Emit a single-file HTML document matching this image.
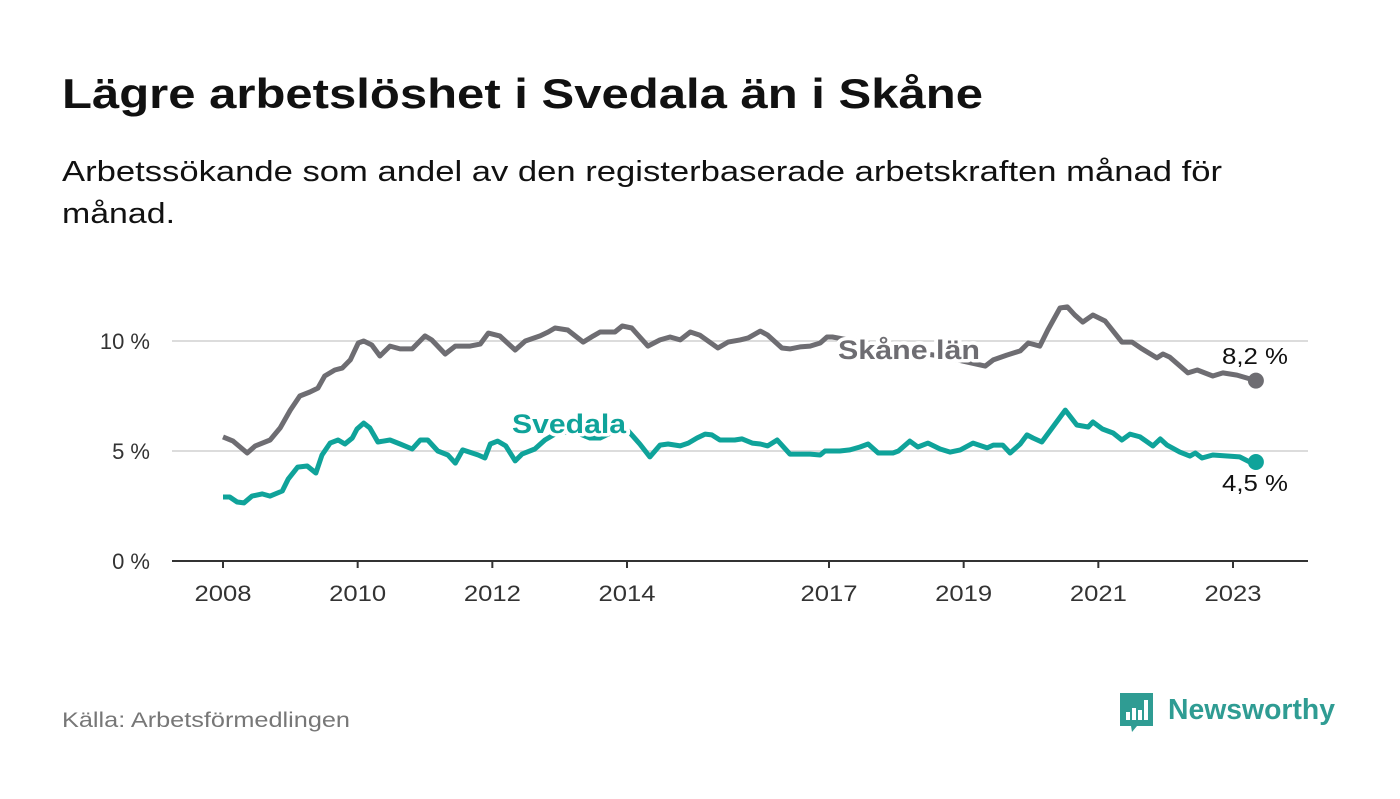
<!DOCTYPE html>
<html><head><meta charset="utf-8"><style>
body{margin:0;background:#fff;width:1400px;height:794px;overflow:hidden;font-family:"Liberation Sans","DejaVu Sans",sans-serif;}
</style></head><body>
<svg width="1400" height="794" viewBox="0 0 1400 794" xmlns="http://www.w3.org/2000/svg" font-family="Liberation Sans, DejaVu Sans, sans-serif">
<text x="62" y="108" font-size="42" font-weight="bold" fill="#111" textLength="921" lengthAdjust="spacingAndGlyphs">Lägre arbetslöshet i Svedala än i Skåne</text>
<text font-size="29" fill="#111"><tspan x="62" y="181" textLength="1160" lengthAdjust="spacingAndGlyphs">Arbetssökande som andel av den registerbaserade arbetskraften månad för</tspan><tspan x="62" y="223" textLength="113" lengthAdjust="spacingAndGlyphs">månad.</tspan></text>
<g id="grid"></g><g id="axes"></g><g id="lines"></g><g id="labels"></g>
<text x="62" y="727" font-size="21" fill="#777" textLength="288" lengthAdjust="spacingAndGlyphs">Källa: Arbetsförmedlingen</text>
<g>
<path d="M1120 693 h33 v33 h-16 l-5 6 l-1 -6 h-11 z" fill="#2f9c93"/>
<rect x="1126" y="712" width="4" height="8" fill="#fff"/><rect x="1132" y="708" width="4" height="12" fill="#fff"/><rect x="1138" y="710" width="4" height="10" fill="#fff"/><rect x="1144" y="700" width="4" height="20" fill="#fff"/>
<text x="1168" y="719" font-size="29" font-weight="bold" fill="#2f9c93" textLength="167" lengthAdjust="spacingAndGlyphs">Newsworthy</text>
</g>
</svg>
<script>
const yTicks=[0,5,10];
const yTickLabels=["0 %","5 %","10 %"];
const xTicks=[2008,2010,2012,2014,2017,2019,2021,2023];
const skaneYears=[2008.00,2008.15,2008.36,2008.48,2008.70,2008.85,2009.00,2009.14,2009.29,2009.41,2009.51,2009.66,2009.77,2009.89,2010.01,2010.09,2010.21,2010.33,2010.48,2010.63,2010.81,2011.00,2011.10,2011.30,2011.45,2011.67,2011.82,2011.94,2012.11,2012.34,2012.49,2012.71,2012.83,2012.93,2013.12,2013.35,2013.50,2013.60,2013.82,2013.93,2014.07,2014.31,2014.49,2014.64,2014.79,2014.94,2015.08,2015.35,2015.50,2015.68,2015.80,2015.98,2016.09,2016.30,2016.42,2016.57,2016.72,2016.87,2016.97,2017.05,2017.46,2018.05,2018.65,2019.32,2019.44,2019.64,2019.84,2019.96,2020.13,2020.25,2020.43,2020.54,2020.65,2020.77,2020.92,2021.10,2021.35,2021.50,2021.65,2021.87,2021.96,2022.06,2022.33,2022.47,2022.70,2022.85,2023.06,2023.34];
const skaneValues=[5.64,5.45,4.91,5.23,5.50,6.05,6.86,7.50,7.68,7.86,8.41,8.68,8.77,9.14,9.91,10.0,9.82,9.32,9.77,9.64,9.64,10.23,10.05,9.41,9.77,9.77,9.86,10.36,10.23,9.59,10.0,10.23,10.41,10.59,10.5,9.95,10.23,10.41,10.41,10.68,10.59,9.77,10.05,10.18,10.05,10.41,10.27,9.68,9.95,10.05,10.14,10.45,10.27,9.68,9.64,9.73,9.77,9.91,10.18,10.18,9.95,9.59,9.32,8.86,9.14,9.36,9.55,9.91,9.77,10.5,11.5,11.55,11.18,10.86,11.18,10.91,9.95,9.95,9.64,9.23,9.41,9.27,8.55,8.68,8.41,8.55,8.45,8.2];
const svedalaYears=[2008.00,2008.10,2008.21,2008.31,2008.43,2008.58,2008.70,2008.88,2008.97,2009.11,2009.25,2009.38,2009.47,2009.59,2009.71,2009.81,2009.92,2009.99,2010.09,2010.18,2010.30,2010.48,2010.63,2010.81,2010.93,2011.04,2011.19,2011.34,2011.45,2011.56,2011.79,2011.89,2011.97,2012.08,2012.20,2012.34,2012.44,2012.63,2012.78,2012.98,2013.23,2013.45,2013.60,2013.78,2014.02,2014.19,2014.34,2014.49,2014.61,2014.79,2014.91,2015.04,2015.16,2015.26,2015.38,2015.60,2015.71,2015.86,2015.98,2016.09,2016.23,2016.42,2016.72,2016.87,2016.94,2017.16,2017.31,2017.46,2017.58,2017.73,2017.95,2018.03,2018.20,2018.32,2018.47,2018.65,2018.80,2018.95,2019.14,2019.35,2019.44,2019.58,2019.69,2019.84,2019.94,2020.03,2020.16,2020.51,2020.68,2020.85,2020.92,2021.06,2021.22,2021.35,2021.47,2021.62,2021.81,2021.92,2022.02,2022.21,2022.36,2022.44,2022.54,2022.70,2023.10,2023.25,2023.34];
const svedalaValues=[2.91,2.91,2.68,2.64,2.95,3.05,2.95,3.18,3.73,4.27,4.32,4.0,4.82,5.36,5.5,5.32,5.59,6.0,6.27,6.05,5.41,5.5,5.32,5.09,5.5,5.5,5.0,4.82,4.45,5.05,4.82,4.68,5.32,5.45,5.23,4.55,4.86,5.09,5.5,5.86,5.86,5.59,5.59,5.86,5.91,5.32,4.73,5.27,5.32,5.23,5.36,5.59,5.77,5.73,5.5,5.5,5.55,5.36,5.32,5.23,5.5,4.86,4.86,4.82,5.0,5.0,5.05,5.18,5.32,4.91,4.91,5.0,5.45,5.18,5.36,5.09,4.95,5.05,5.36,5.14,5.27,5.27,4.91,5.32,5.73,5.59,5.41,6.86,6.18,6.09,6.32,6.0,5.82,5.5,5.77,5.64,5.23,5.55,5.27,4.95,4.77,4.91,4.68,4.82,4.73,4.5,4.5];
const NS="http://www.w3.org/2000/svg";
const xS=y=>223+(y-2008)*(1010/15);
const yS=v=>561-v*22;
function mk(tag,parent,attrs){const e=document.createElementNS(NS,tag);for(const k in attrs)e.setAttribute(k,attrs[k]);document.getElementById(parent).appendChild(e);return e;}
yTicks.forEach((t,i)=>{
 if(t>0){const g=mk('line','grid',{x1:172,x2:1308,y1:yS(t),y2:yS(t),stroke:'#dcdcdc','stroke-width':2});
 
 }
 const l=mk('text','axes',{x:150,y:yS(t)+8,'text-anchor':'end','font-size':22,fill:'#333'});l.textContent=yTickLabels[i];
 
 
});
const ax=mk('line','axes',{x1:172,x2:1308,y1:561,y2:561,stroke:'#333','stroke-width':2});


xTicks.forEach(t=>{
 const tk=mk('line','axes',{x1:xS(t),x2:xS(t),y1:561,y2:568,stroke:'#333','stroke-width':2});
 
 
 const l=mk('text','axes',{x:xS(t),y:601,'text-anchor':'middle','font-size':22,fill:'#333',textLength:57,lengthAdjust:'spacingAndGlyphs'});l.textContent=t;
 
 
});
function series(ys,vs,color,name){
 const d=ys.map((y,i)=>(i?'L':'M')+xS(y).toFixed(1)+' '+yS(vs[i]).toFixed(1)).join(' ');
 const p=mk('path','lines',{d:d,fill:'none',stroke:color,'stroke-width':5,'stroke-linejoin':'round'});
 
 
 const n=ys.length-1;
 const c=mk('circle','lines',{cx:xS(ys[n]),cy:yS(vs[n]),r:8,fill:color});
 
 
}
series(skaneYears,skaneValues,'#6e6d72','skane');
series(svedalaYears,svedalaValues,'#0fa39a','svedala');
function lab(x,y,txt,col,size,bold,w,name){
 const t=mk('text','labels',{x:x,y:y,'font-size':size,fill:col,'font-weight':bold?'bold':'normal',stroke:'#fff','stroke-width':7,'paint-order':'stroke','stroke-linejoin':'round',textLength:w,lengthAdjust:'spacingAndGlyphs'});
 t.textContent=txt;
 
 
}
lab(838,359,'Skåne län','#6e6d72',27,true,142,'skane-series-label');
lab(512,433,'Svedala','#0fa39a',27,true,114,'svedala-series-label');
lab(1222,364,'8,2 %','#111',23,false,66,'skane-end-value');
lab(1222,491,'4,5 %','#111',23,false,66,'svedala-end-value');
</script>
</body></html>
